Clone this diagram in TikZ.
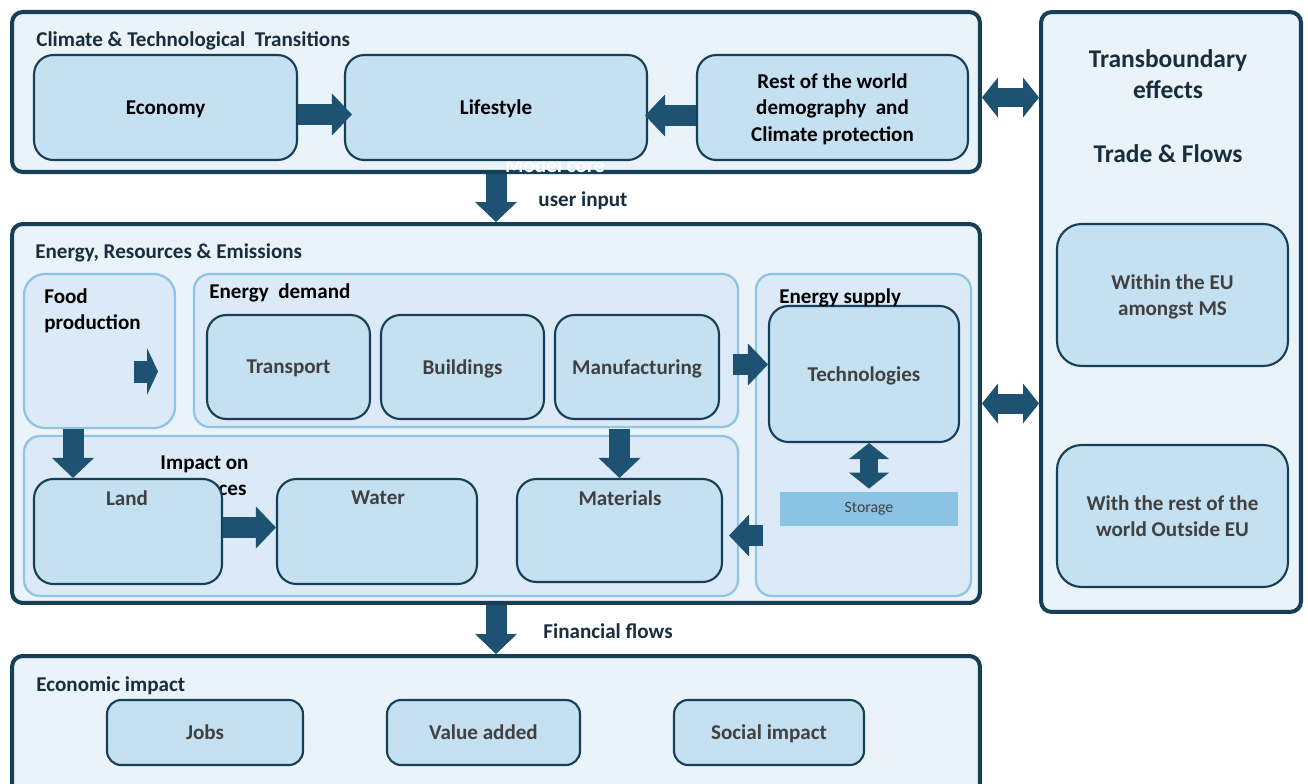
\documentclass[tikz,border=0pt]{standalone}
\usepackage{fontspec}
\setmainfont{Carlito}
\usetikzlibrary{arrows.meta}

\definecolor{edgeblue}{RGB}{23,62,87}
\definecolor{paleblue}{RGB}{234,242,250}
\definecolor{boxblue}{RGB}{196,224,241}
\definecolor{groupblue}{RGB}{219,234,246}
\definecolor{lineblue}{RGB}{142,196,228}
\definecolor{storeblue}{RGB}{138,195,228}
\definecolor{arrowblue}{RGB}{30,82,115}
\definecolor{titlecol}{RGB}{25,45,60}
\definecolor{textgray}{RGB}{64,64,64}

\tikzset{
  section/.style={draw=edgeblue,fill=paleblue,line width=2.3pt,rounded corners=6pt},
  group/.style={draw=lineblue,fill=groupblue,line width=1.3pt,rounded corners=9pt},
  module/.style={draw=edgeblue,fill=boxblue,line width=1.2pt,rounded corners=11pt,align=center,text depth=0pt,text=textgray,font=\bfseries\fontsize{12}{15.3}\selectfont},
  caption/.style={inner sep=0pt,text depth=0pt,text=black,font=\bfseries\fontsize{12}{14.7}\selectfont},
  flow/.style={draw=arrowblue,line width=0.42cm,-{Triangle[width=0.84cm,length=0.4cm,line width=0pt]}},
  twoway/.style={draw=arrowblue,line width=0.4cm,{Triangle[width=0.8cm,length=0.32cm,line width=0pt]}-{Triangle[width=0.8cm,length=0.32cm,line width=0pt]}}
}

\begin{document}
\begin{tikzpicture}[x=0.02cm,y=-0.02cm]
\clip (0,0) rectangle (1308,784);

% outer sections
\node[section,minimum width=19.36cm,minimum height=3.2cm] (top) at (496,92) {};
\node[section,minimum width=5.2cm,minimum height=12cm] (trans) at (1171,312) {};
\node[section,minimum width=19.36cm,minimum height=7.58cm] (mid) at (496,413.5) {};
\node[section,minimum width=19.36cm,minimum height=3cm] (econ) at (496,731) {};
\node[caption,text=white] (tmodel) at (555,165) {Model core};

% groups inside the middle section
\node[group,rounded corners=12pt,minimum width=3.02cm,minimum height=3.08cm] (food) at (99.5,351) {};
\node[group,minimum width=10.88cm,minimum height=3.06cm] (demand) at (466,350.5) {};
\node[group,minimum width=14.28cm,minimum height=3.2cm] (impact) at (381,516) {};
\node[group,minimum width=4.3cm,minimum height=6.44cm] (supply) at (863.5,435) {};
\node[caption,align=center] (timpact) at (204.5,476) {Impact on\\resources};

% modules
\node[module,text=black,minimum width=5.26cm,minimum height=2.1cm] (eco) at (165.5,107.5) {Economy};
\node[module,text=black,minimum width=6.04cm,minimum height=2.1cm] (life) at (496,107.5) {Lifestyle};
\node[module,text=black,minimum width=5.42cm,minimum height=2.1cm] (rest) at (832.5,107.5) {Rest of the world\\demography\ \ and\\Climate protection};
\node[module,rounded corners=14pt,minimum width=4.62cm,minimum height=2.84cm,font=\bfseries\fontsize{12}{14.5}\selectfont] (within) at (1172.5,295) {Within the EU\\amongst MS};
\node[module,rounded corners=14pt,minimum width=4.62cm,minimum height=2.84cm,font=\bfseries\fontsize{12}{14.5}\selectfont] (wrest) at (1172.5,516) {With the rest of the\\world Outside EU};
\node[module,minimum width=3.26cm,minimum height=2.08cm] (transp) at (288.5,367) {Transport};
\node[module,minimum width=3.26cm,minimum height=2.08cm] (build) at (462.5,367) {Buildings};
\node[module,minimum width=3.28cm,minimum height=2.08cm] (manu) at (637,367) {Manufacturing};
\node[module,minimum width=3.76cm,minimum height=2.1cm] (land) at (128,531.5) {};
\node[module,minimum width=4cm,minimum height=2.1cm] (water) at (377,531.5) {};
\node[module,minimum width=4.1cm,minimum height=2.06cm] (mat) at (619.5,530.5) {};
\node[module,minimum width=3.8cm,minimum height=2.72cm] (tech) at (864,374) {Technologies};
\node[fill=storeblue,minimum width=3.56cm,minimum height=0.68cm,text=textgray,font=\fontsize{9}{11}\selectfont] (stor) at (869,509) {Storage};
\node[module,rounded corners=8pt,minimum width=3.92cm,minimum height=1.3cm] (jobs) at (205,732.5) {Jobs};
\node[module,rounded corners=8pt,minimum width=3.86cm,minimum height=1.3cm] (vadd) at (483.5,732.5) {Value added};
\node[module,rounded corners=8pt,minimum width=3.8cm,minimum height=1.3cm] (social) at (769,732.5) {Social impact};

% captions
\node[caption,text=titlecol,anchor=west] (ttop) at (36,39) {Climate \& Technological\ \ Transitions};
\node[caption,text=titlecol,anchor=west] (tmid) at (35,251) {Energy, Resources \& Emissions};
\node[caption,text=titlecol,anchor=west] (tecon) at (36,684) {Economic impact};
\node[caption,anchor=west,align=left] (tfood) at (44,309) {Food\\production};
\node[caption,anchor=west] (tdemand) at (209,291) {Energy\ \ demand};
\node[caption,anchor=west] (tsupply) at (779,296) {Energy supply};
\node[caption,text=textgray] (tland) at (127,498) {Land};
\node[caption,text=textgray] (twater) at (378,498) {Water};
\node[caption,text=textgray] (tmat) at (620,498) {Materials};
\node[caption,text=titlecol,align=center,font=\bfseries\fontsize{14.5}{18}\selectfont] (ttrans) at (1168,74) {Transboundary\\effects};
\node[caption,text=titlecol,font=\bfseries\fontsize{14.5}{18}\selectfont] (ttrade) at (1168,154) {Trade \& Flows};
\node[caption,text=titlecol] (tuser) at (583,199) {user input};
\node[caption,text=titlecol] (tfin) at (608,631) {Financial flows};

% block arrows
\coordinate (fa) at (134,371.5);
\coordinate (fb) at (158,371.5);
\draw[flow,shorten >=-0.16cm] ([yshift=-0.14cm]eco.east) -- ([yshift=-0.14cm]life.west);
\draw[flow,shorten >=-0.06cm] ([yshift=-0.16cm]rest.west) -- ([yshift=-0.16cm]life.east);
\draw[twoway] ([yshift=-0.11cm]top.east) -- ([yshift=-0.11cm]top.east -| trans.west);
\draw[twoway] ([yshift=0.2cm]mid.east) -- ([yshift=0.2cm]mid.east -| trans.west);
\draw[flow] (top.south) -- (mid.north);
\draw[flow] (mid.south) -- (econ.north);
\draw[flow] ([xshift=-0.53cm]food.south) -- ([xshift=-0.53cm]food.south |- land.north);
\draw[draw=arrowblue,line width=0.44cm,-{Triangle[width=0.94cm,length=0.22cm,line width=0pt]}] (fa) -- (fb);
\draw[flow] ([xshift=0.26cm,yshift=0.05cm]manu.east) -- ([yshift=0.05cm]manu.east -| tech.west);
\draw[flow] ([yshift=-0.18cm]manu.south -| mat.north) -- (mat.north);
\draw[flow] ([yshift=0.08cm]land.east) -- ([yshift=0.08cm]water.west);
\draw[flow,shorten >=0.12cm] ([xshift=0.16cm,yshift=-0.1cm]supply.west |- mat.east) -- ([yshift=-0.1cm]mat.east);
\draw[twoway,line width=0.36cm,shorten >=0.06cm] (tech.south -| stor.north) -- (stor.north);
\end{tikzpicture}
\end{document}
